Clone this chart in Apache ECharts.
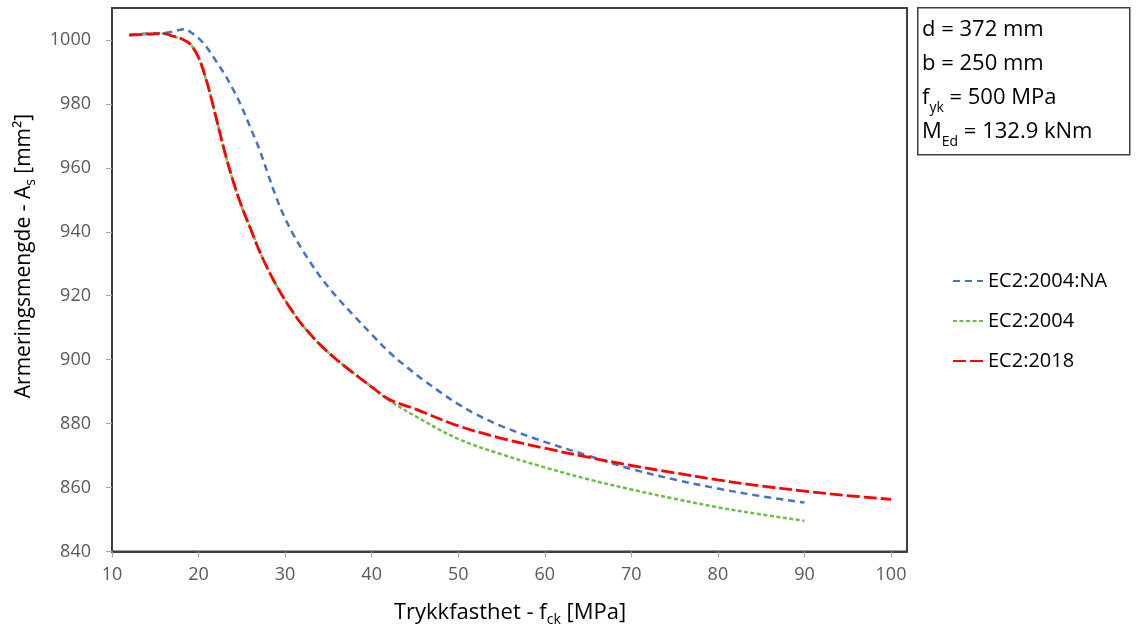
<!DOCTYPE html>
<html>
<head>
<meta charset="utf-8">
<script src="https://cdn.jsdelivr.net/npm/echarts@6/dist/echarts.min.js"></script>
<style>html,body{margin:0;padding:0;background:#fff}#c{width:1136px;height:634px}</style>
</head>
<body>
<div id="c"></div>
<script>
// ---- data ----
const seriesNames = ['EC2:2004:NA', 'EC2:2004', 'EC2:2018'];
const xTicks = [10, 20, 30, 40, 50, 60, 70, 80, 90, 100];
const yTicks = [840, 860, 880, 900, 920, 940, 960, 980, 1000];

const fckNA = [12, 14, 16, 17, 18, 18.5, 19, 20, 21, 22, 23, 24, 25, 26, 27, 28, 29, 30, 31, 32, 33, 34, 35, 36, 38, 40, 42, 44, 46, 48, 50, 52, 55, 60, 65, 70, 75, 80, 85, 90];
const AsNA  = [1001.6, 1002, 1002.2, 1002.6, 1003.3, 1003.4, 1002.6, 1000.6, 997.5, 993.5, 989.3, 984.5, 979, 972.5, 966, 958.2, 950.6, 944.2, 938.9, 934.3, 930.1, 926.2, 922.7, 919.5, 913.6, 907.9, 902.4, 897.8, 893.6, 889.7, 886.1, 883, 879.2, 874.3, 870, 865.8, 862.5, 859.7, 857.3, 855.3];

const fck2004 = [12, 14, 16, 17, 18, 19, 20, 21, 22, 23, 24, 25, 26, 27, 28, 29, 30, 31, 32, 34, 36, 38, 40, 42, 45, 50, 55, 60, 65, 70, 75, 80, 85, 90];
const As2004  = [1001.5, 1001.8, 1002, 1001.2, 1000.4, 998.8, 994.5, 986.5, 976, 965.2, 955.8, 947.8, 941, 934.2, 928.4, 923.2, 918.6, 914.5, 910.8, 904.8, 899.9, 895.6, 891.5, 887.3, 882.4, 875.2, 870.4, 866.3, 862.6, 859.4, 856.5, 853.8, 851.6, 849.6];

const fck2018 = [12, 14, 16, 17, 18, 19, 20, 21, 22, 23, 24, 25, 26, 27, 28, 29, 30, 31, 32, 34, 36, 38, 40, 42, 45, 50, 55, 60, 65, 70, 75, 80, 85, 90, 95, 100];
const As2018  = [1001.5, 1001.8, 1002, 1001.2, 1000.4, 998.8, 994.5, 986.5, 976, 965.2, 955.8, 947.8, 941, 934.2, 928.4, 923.2, 918.6, 914.5, 910.8, 904.8, 899.9, 895.6, 891.5, 887.6, 884.6, 879.3, 875.4, 872.3, 869.5, 866.9, 864.6, 862.4, 860.5, 858.9, 857.5, 856.3];

const pairs = (xs, ys) => xs.map((x, i) => [x, ys[i]]);

const FONT = 'Open Sans';
const SUB = {fontSize: 14, fontFamily: FONT, fill: '#000', lineHeight: 14, verticalAlign: 'bottom'};
const chart = echarts.init(document.getElementById('c'), null, {renderer: 'canvas'});
chart.setOption({
  backgroundColor: '#ffffff',
  animation: false,
  grid: {left: 112, top: 8, right: 229, bottom: 82.5, show: true, borderColor: '#404040', borderWidth: 2, containLabel: false},
  xAxis: {
    type: 'value', min: 10, max: 101.85,
    axisLine: {show: true, lineStyle: {color: '#404040', width: 2}},
    axisTick: {show: true, customValues: xTicks, length: 6, lineStyle: {color: '#a6a6a6', width: 1}},
    axisLabel: {customValues: xTicks, margin: 14, color: '#595959', fontSize: 18, fontFamily: FONT, formatter: v => String(v)},
    splitLine: {show: false}
  },
  yAxis: {
    type: 'value', min: 840, max: 1010,
    axisLine: {show: true, lineStyle: {color: '#404040', width: 2}},
    axisTick: {show: true, customValues: yTicks, length: 6, lineStyle: {color: '#a6a6a6', width: 1}},
    axisLabel: {customValues: yTicks, margin: 21, color: '#595959', fontSize: 18, fontFamily: FONT, formatter: v => String(v)},
    splitLine: {show: false}
  },
  legend: {
    orient: 'vertical', left: 947, top: 266, itemWidth: 30, itemHeight: 14, itemGap: 20,
    data: seriesNames,
    itemStyle: {opacity: 0},
    textStyle: {fontSize: 20, color: '#000', fontFamily: FONT}
  },
  series: [
    {name: seriesNames[0], type: 'line', data: pairs(fckNA, AsNA), smooth: 0.35, symbol: 'none', z: 2,
     lineStyle: {color: '#4472C4', width: 2.5, type: [7, 5]}, itemStyle: {color: '#4472C4'}},
    {name: seriesNames[1], type: 'line', data: pairs(fck2004, As2004), smooth: 0.35, symbol: 'none', z: 3,
     lineStyle: {color: '#6BBF47', width: 2.5, type: [4, 2.5]}, itemStyle: {color: '#6BBF47'}},
    {name: seriesNames[2], type: 'line', data: pairs(fck2018, As2018), smooth: 0.35, symbol: 'none', z: 4,
     lineStyle: {color: '#FF0000', width: 2.8, type: [13, 4]}, itemStyle: {color: '#FF0000'}}
  ],
  graphic: [
    {type: 'rect', left: 917, top: 7, shape: {width: 212, height: 147}, style: {fill: '#fff', stroke: '#404040', lineWidth: 1.5}},
    {type: 'text', left: 922, top: 13, style: {
      text: 'd = 372 mm\nb = 250 mm\nf{sub|yk} = 500 MPa\nM{sub|Ed} = 132.9 kNm',
      fontSize: 22, fontFamily: FONT, fill: '#000', lineHeight: 34, rich: {sub: SUB}
    }},
    {type: 'text', x: 510, y: 613, style: {
      text: 'Trykkfasthet - f{sub|ck} [MPa]', align: 'center', verticalAlign: 'middle',
      fontSize: 22, fontFamily: FONT, fill: '#000', lineHeight: 28, rich: {sub: SUB}
    }},
    {type: 'text', x: 24, y: 256, rotation: Math.PI / 2, style: {
      text: 'Armeringsmengde - A{sub|s} [mm²]', align: 'center', verticalAlign: 'middle',
      fontSize: 21, fontFamily: FONT, fill: '#000', lineHeight: 28, rich: {sub: SUB}
    }}
  ]
});
</script>
</body>
</html>
